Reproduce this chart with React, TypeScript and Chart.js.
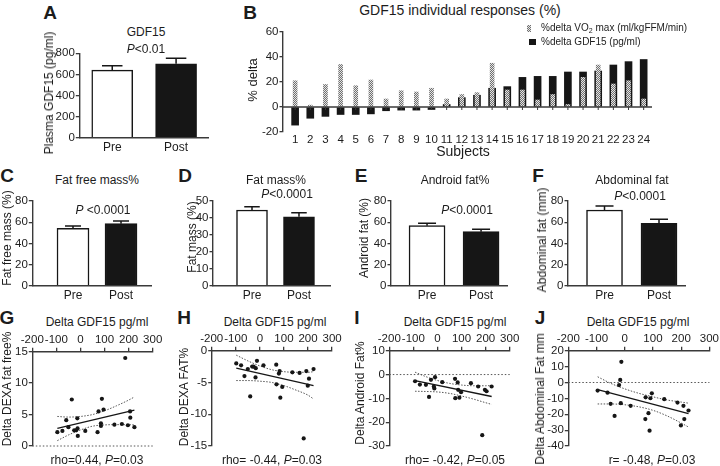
import React, { useEffect, useRef } from 'react';
import { Chart, registerables } from 'chart.js';

Chart.register(...registerables);

const FONT = "'Liberation Sans', Arial, Helvetica, sans-serif";
const INK = '#1c1c1c';
const AXIS = '#3a3a3a';
const BAR = '#161616';
const TICK_SIZE = 11.5;

// ---------- A, C, D, E, F : Pre / Post means (+SEM) ----------
const groupLabels = ['Pre', 'Post'];
const groupX = [1, 2];

const gdf15Mean = [640, 700];
const gdf15Sem = [42, 52];
const gdf15TicksY = [0, 200, 400, 600, 800];

const ffmMean = [54.2, 58.6];
const ffmSem = [2.2, 2.4];
const ffmTicksY = [0, 20, 40, 60, 80];

const fatMean = [44.7, 40.7];
const fatSem = [1.9, 2.4];
const fatTicksY = [0, 10, 20, 30, 40, 50];

const androidMean = [56.7, 51.0];
const androidSem = [2.3, 2.3];
const androidTicksY = [0, 20, 40, 60, 80];

const abdMean = [71.5, 59.0];
const abdSem = [3.8, 3.7];
const abdTicksY = [0, 20, 40, 60, 80];

// ---------- B : individual responses ----------
const subjectLabels = ['1', '2', '3', '4', '5', '6', '7', '8', '9', '10', '11', '12', '13', '14', '15', '16', '17', '18', '19', '20', '21', '22', '23', '24'];
const subjectX = [1, 2, 3, 4, 5, 6, 7, 8, 9, 10, 11, 12, 13, 14, 15, 16, 17, 18, 19, 20, 21, 22, 23, 24];
const vo2Delta = [21, 1.5, 18, 34, 17, 21.6, 6.4, 13, 12, 15, 6.4, 10, 11.5, 35, 13.6, 13.6, 5.6, 10, 2, 23.7, 33.6, 18.4, 21, 6.4];
const gdfDelta = [-14.5, -9, -7.5, -6, -6, -5.5, -3, -2.5, -2.5, -2, 2, 7.5, 9.4, 15, 16.3, 23.7, 24.5, 24.5, 28, 28, 28.8, 33.6, 36.3, 38];
const deltaTicksY = [-20, 0, 20, 40, 60];

// ---------- G - J : correlations with delta GDF15 ----------
const gdfTicksX = [-200, -100, 0, 100, 200, 300];

const gX = [-96, -75, -59, -50, -36, -26, -18, -13, -12, -11, 20, 71, 75, 85, 85, 89, 96, 141, 172, 186, 197, 206, 207, 224];
const gY = [2.2, 2.4, 4.1, 3.0, 7.4, 2.5, 2.5, 4.4, 2.8, 1.6, 2.4, 2.2, 5.5, 3.2, 3.6, 7.5, 5.8, 3.4, 3.5, 14.0, 3.3, 5.5, 4.5, 3.0];
const gFitX = [-96, 224];
const gFitY = [2.8, 5.7];
const gBandX = [-96, -50, 0, 50, 100, 150, 200, 224];
const gBandUp = [4.7, 4.6, 4.7, 5.0, 5.6, 6.4, 7.3, 7.8];
const gBandLo = [0.85, 1.75, 2.55, 3.15, 3.35, 3.4, 3.4, 3.35];
const gTicksY = [0, 5, 10, 15];

const hX = [-98, -78, -64, -50, -40, -32, -26, -18, -17, -12, 15, 68, 69, 79, 82, 85, 93, 135, 165, 182, 193, 199, 204, 223];
const hY = [-2.0, -2.3, -4.0, -2.9, -7.2, -2.5, -2.5, -4.2, -2.75, -1.6, -2.3, -2.2, -5.3, -3.6, -3.2, -7.4, -5.7, -3.4, -3.5, -13.8, -3.2, -5.5, -4.4, -2.9];
const hFitX = [-98, 223];
const hFitY = [-2.75, -5.5];
const hBandX = [-98, -50, 0, 50, 100, 150, 200, 223];
const hBandUp = [-0.7, -1.6, -2.4, -3.0, -3.3, -3.4, -3.4, -3.3];
const hBandLo = [-4.7, -4.7, -4.8, -5.0, -5.5, -6.2, -7.0, -7.6];
const hTicksY = [-15, -10, -5, 0];

const iX = [-93, -73, -48, -35, -27, -15, -13, -10, 20, 73, 74, 84, 86, 91, 98, 139, 169, 186, 197, 204, 225];
const iY = [-2.8, -4.2, -4.3, -9.4, -2.2, -5.0, -5.8, -1.1, -3.2, -1.8, -9.9, -3.3, -6.4, -9.7, -7.4, -3.6, -5.0, -25.4, -6.4, -7.0, -5.0];
const iFitX = [-93, 225];
const iFitY = [-2.5, -9.2];
const iBandX = [-93, -50, 0, 50, 100, 150, 200, 225];
const iBandUp = [1.0, -0.8, -2.5, -3.7, -4.4, -4.7, -4.7, -4.6];
const iBandLo = [-7.0, -7.1, -7.3, -7.9, -9.0, -10.3, -11.8, -12.5];
const iTicksY = [-30, -20, -10, 0, 10];

const jX = [-96, -61, -50, -36, -20, -16, -12, -14, 21, 74, 73, 84, 88, 91, 96, 140, 187, 199, 208, 211, 226];
const jY = [-5.1, -6.4, -13.4, -21, -1.6, 1.6, 13, -13, -14.7, -9.3, -23, -19.3, -30.3, -9.9, -6.8, -10.5, -12.6, -27, -14.7, -23, -17.6];
const jFitX = [-96, 226];
const jFitY = [-4.5, -19.5];
const jBandX = [-96, -50, 0, 50, 100, 150, 200, 226];
const jBandUp = [3.6, -0.5, -4.0, -6.8, -9.0, -11.0, -12.3, -13.0];
const jBandLo = [-13.5, -13.5, -14.0, -15.3, -17.5, -21.0, -25.5, -28.0];
const jTicksY = [-40, -30, -20, -10, 0, 10, 20];

// ---------- geometry ----------
type Box = { L: number; T: number; W: number; H: number; left: number; right: number; top: number; bottom: number };

const boxA: Box = { L: 40, T: 45, W: 180, H: 110, left: 79.3, right: 208, top: 53.3, bottom: 137.7 };
const boxB: Box = { L: 245, T: 24, W: 415, H: 122, left: 283, right: 652, top: 32, bottom: 132 };
const boxC: Box = { L: 12, T: 193, W: 150, H: 110, left: 32.3, right: 151.5, top: 201, bottom: 285.7 };
const boxD: Box = { L: 190, T: 193, W: 150, H: 110, left: 213, right: 330, top: 201, bottom: 285.7 };
const boxE: Box = { L: 367, T: 193, W: 150, H: 110, left: 391, right: 507, top: 201, bottom: 285.7 };
const boxF: Box = { L: 545, T: 193, W: 150, H: 110, left: 568, right: 685, top: 201, bottom: 285.7 };
const boxG: Box = { L: 10, T: 332, W: 155, H: 122, left: 32.3, right: 152.7, top: 351.7, bottom: 446 };
const boxH: Box = { L: 188, T: 331, W: 156, H: 123, left: 211.7, right: 332.1, top: 350.7, bottom: 446 };
const boxI: Box = { L: 365, T: 331, W: 157, H: 123, left: 389.3, right: 509.7, top: 350.7, bottom: 446.7 };
const boxJ: Box = { L: 543, T: 331, W: 177, H: 123, left: 568.3, right: 710.3, top: 350.7, bottom: 446.7 };

const fixedTicks = (vals: number[]) => (s: any) => {
  s.ticks = vals.map((v) => ({ value: v }));
};

const tickFont = { family: FONT, size: TICK_SIZE };

function yAxis(b: Box, ticks: number[]): any {
  return {
    type: 'linear',
    min: ticks[0],
    max: ticks[ticks.length - 1],
    afterBuildTicks: fixedTicks(ticks),
    afterFit: (s: any) => {
      s.width = b.left - b.L;
    },
    grid: { drawOnChartArea: false, drawTicks: true, tickLength: 3.5, color: AXIS, lineWidth: 1.3 },
    border: { display: true, color: AXIS, width: 1.4 },
    ticks: { font: tickFont, color: INK, padding: 1, autoSkip: false },
  };
}

function errorBars(sems: number[], cap: number) {
  return {
    id: 'errorBars',
    afterDatasetsDraw(chart: any) {
      const meta = chart.getDatasetMeta(0);
      const ys = chart.scales.y;
      const data = chart.data.datasets[0].data;
      const ctx = chart.ctx;
      ctx.save();
      ctx.strokeStyle = BAR;
      ctx.lineWidth = 1.5;
      meta.data.forEach((el: any, i: number) => {
        const top = ys.getPixelForValue(data[i].y + sems[i]);
        ctx.beginPath();
        ctx.moveTo(el.x, el.y);
        ctx.lineTo(el.x, top);
        ctx.moveTo(el.x - cap / 2, top);
        ctx.lineTo(el.x + cap / 2, top);
        ctx.stroke();
      });
      ctx.restore();
    },
  };
}

function zeroLine(dash: number[], color: string, width: number, tickXs?: number[]) {
  return {
    id: 'zeroLine',
    afterDatasetsDraw(chart: any) {
      const ys = chart.scales.y;
      const y = ys.getPixelForValue(0);
      const { left, right } = chart.chartArea;
      const ctx = chart.ctx;
      ctx.save();
      ctx.strokeStyle = color;
      ctx.lineWidth = width;
      ctx.setLineDash(dash);
      ctx.beginPath();
      ctx.moveTo(left, y);
      ctx.lineTo(right, y);
      ctx.stroke();
      if (tickXs) {
        ctx.setLineDash([]);
        ctx.lineWidth = 1;
        tickXs.forEach((v) => {
          const x = chart.scales.x.getPixelForValue(v);
          ctx.beginPath();
          ctx.moveTo(x, y);
          ctx.lineTo(x, y + 3);
          ctx.stroke();
        });
      }
      ctx.restore();
    },
  };
}

const baseOptions = {
  animation: false,
  responsive: false,
  maintainAspectRatio: false,
  devicePixelRatio: 1,
  events: [],
  plugins: { legend: { display: false }, tooltip: { enabled: false }, title: { display: false } },
};

function barConfig(b: Box, xr: [number, number], yTicks: number[], means: number[], sems: number[], thick: number): any {
  const xh = b.T + b.H - b.bottom;
  return {
    type: 'bar',
    data: {
      datasets: [
        {
          data: groupX.map((x, i) => ({ x, y: means[i] })),
          backgroundColor: ['#ffffff', BAR],
          borderColor: BAR,
          borderWidth: 1.5,
          barThickness: thick,
        },
      ],
    },
    options: {
      ...baseOptions,
      layout: { padding: { left: 0, right: b.L + b.W - b.right, top: b.top - b.T, bottom: 0 } },
      scales: {
        x: {
          type: 'linear',
          offset: false,
          min: xr[0],
          max: xr[1],
          afterBuildTicks: fixedTicks(groupX),
          afterFit: (s: any) => {
            s.height = xh;
          },
          grid: { display: false, drawTicks: false, offset: false },
          border: { display: true, color: AXIS, width: 1.4 },
          ticks: {
            font: { family: FONT, size: 12 },
            color: INK,
            padding: 3,
            autoSkip: false,
            maxRotation: 0,
            callback: (v: any) => {
              const k = groupX.indexOf(Number(v));
              return k >= 0 ? groupLabels[k] : '';
            },
          },
        },
        y: yAxis(b, yTicks),
      },
    },
    plugins: [errorBars(sems, thick * 0.5)],
  };
}

function scatterConfig(
  b: Box,
  xs: number[],
  ys: number[],
  fitX: number[],
  fitY: number[],
  bandX: number[],
  bandUp: number[],
  bandLo: number[],
  yTicks: number[],
  dottedZero: boolean
): any {
  const xh = b.top - b.T;
  return {
    type: 'scatter',
    data: {
      datasets: [
        {
          type: 'scatter',
          data: xs.map((x, i) => ({ x, y: ys[i] })),
          pointRadius: 2.1,
          pointBackgroundColor: BAR,
          pointBorderWidth: 0,
          order: 1,
        },
        {
          type: 'line',
          data: fitX.map((x, i) => ({ x, y: fitY[i] })),
          borderColor: BAR,
          borderWidth: 1.3,
          pointRadius: 0,
          fill: false,
          order: 2,
        },
        {
          type: 'line',
          data: bandX.map((x, i) => ({ x, y: bandUp[i] })),
          borderColor: '#555',
          borderWidth: 1,
          borderDash: [1.5, 1.5],
          pointRadius: 0,
          fill: false,
          cubicInterpolationMode: 'monotone',
          order: 3,
        },
        {
          type: 'line',
          data: bandX.map((x, i) => ({ x, y: bandLo[i] })),
          borderColor: '#555',
          borderWidth: 1,
          borderDash: [1.5, 1.5],
          pointRadius: 0,
          fill: false,
          cubicInterpolationMode: 'monotone',
          order: 4,
        },
      ],
    },
    options: {
      ...baseOptions,
      layout: { padding: { left: 0, right: b.L + b.W - b.right, top: 0, bottom: b.T + b.H - b.bottom } },
      scales: {
        x: {
          type: 'linear',
          position: 'top',
          min: gdfTicksX[0],
          max: gdfTicksX[gdfTicksX.length - 1],
          afterBuildTicks: fixedTicks(gdfTicksX),
          afterFit: (s: any) => {
            s.height = xh;
          },
          grid: { drawOnChartArea: false, drawTicks: true, tickLength: 4, color: AXIS, lineWidth: 1.3 },
          border: { display: true, color: AXIS, width: 1.4 },
          ticks: { font: tickFont, color: INK, padding: 1, autoSkip: false, maxRotation: 0 },
        },
        y: yAxis(b, yTicks),
      },
    },
    plugins: dottedZero ? [zeroLine([1.5, 2], '#555', 1)] : [],
  };
}

function hatch(canvas: HTMLCanvasElement): any {
  const pc = document.createElement('canvas');
  pc.width = 2;
  pc.height = 2;
  const p = pc.getContext('2d')!;
  p.fillStyle = '#e4e4e4';
  p.fillRect(0, 0, 2, 2);
  p.fillStyle = '#707070';
  p.fillRect(0, 0, 1, 1);
  p.fillRect(1, 1, 1, 1);
  return canvas.getContext('2d')!.createPattern(pc, 'repeat');
}

function configB(canvas: HTMLCanvasElement): any {
  const b = boxB;
  const xh = b.T + b.H - b.bottom;
  return {
    type: 'bar',
    data: {
      datasets: [
        {
          label: '%delta VO₂ max (ml/kgFFM/min)',
          data: subjectX.map((x, i) => ({ x, y: vo2Delta[i] })),
          backgroundColor: hatch(canvas),
          borderWidth: 0,
          barThickness: 4,
          grouped: false,
          order: 1,
        },
        {
          label: '%delta GDF15 (pg/ml)',
          data: subjectX.map((x, i) => ({ x, y: gdfDelta[i] })),
          backgroundColor: BAR,
          borderWidth: 0,
          barThickness: 7,
          grouped: false,
          order: 2,
        },
      ],
    },
    options: {
      ...baseOptions,
      layout: { padding: { left: 0, right: b.L + b.W - b.right, top: b.top - b.T, bottom: 0 } },
      scales: {
        x: {
          type: 'linear',
          offset: false,
          min: 0.2,
          max: 24.55,
          afterBuildTicks: fixedTicks(subjectX),
          afterFit: (s: any) => {
            s.height = xh;
          },
          grid: { display: false, drawTicks: false, offset: false },
          border: { display: false },
          ticks: {
            font: tickFont,
            color: INK,
            padding: 1,
            autoSkip: false,
            maxRotation: 0,
            callback: (v: any) => subjectLabels[subjectX.indexOf(Number(v))] ?? '',
          },
        },
        y: yAxis(b, deltaTicksY),
      },
    },
    plugins: [zeroLine([], AXIS, 1.4, subjectX)],
  };
}

type Panel = { box: Box; make: (c: HTMLCanvasElement) => any };

const panels: Panel[] = [
  { box: boxA, make: () => barConfig(boxA, [0.484, 2.5], gdf15TicksY, gdf15Mean, gdf15Sem, 41) },
  { box: boxB, make: (c) => configB(c) },
  { box: boxC, make: () => barConfig(boxC, [0.152, 2.635], ffmTicksY, ffmMean, ffmSem, 32) },
  { box: boxD, make: () => barConfig(boxD, [0.17, 2.66], fatTicksY, fatMean, fatSem, 31) },
  { box: boxE, make: () => barConfig(boxE, [0.333, 2.48], androidTicksY, androidMean, androidSem, 36) },
  { box: boxF, make: () => barConfig(boxF, [0.33, 2.477], abdTicksY, abdMean, abdSem, 36) },
  { box: boxG, make: () => scatterConfig(boxG, gX, gY, gFitX, gFitY, gBandX, gBandUp, gBandLo, gTicksY, true) },
  { box: boxH, make: () => scatterConfig(boxH, hX, hY, hFitX, hFitY, hBandX, hBandUp, hBandLo, hTicksY, false) },
  { box: boxI, make: () => scatterConfig(boxI, iX, iY, iFitX, iFitY, iBandX, iBandUp, iBandLo, iTicksY, true) },
  { box: boxJ, make: () => scatterConfig(boxJ, jX, jY, jFitX, jFitY, jBandX, jBandUp, jBandLo, jTicksY, true) },
];

function Txt(props: { x: number; y: number; size?: number; bold?: boolean; rot?: boolean; children: React.ReactNode }) {
  const { x, y, size = 12, bold = false, rot = false, children } = props;
  return (
    <div
      style={{
        position: 'absolute',
        left: x,
        top: y,
        transform: `translate(-50%, -50%)${rot ? ' rotate(-90deg)' : ''}`,
        fontFamily: FONT,
        fontSize: size,
        fontWeight: bold ? 700 : 400,
        color: INK,
        whiteSpace: 'nowrap',
        lineHeight: 1,
      }}
    >
      {children}
    </div>
  );
}

const P = () => <span style={{ fontStyle: 'italic' }}>P</span>;

export default function App() {
  const refs = useRef<(HTMLCanvasElement | null)[]>([]);

  useEffect(() => {
    document.body.style.margin = '0';
    const charts: Chart[] = [];
    panels.forEach((p, i) => {
      const c = refs.current[i];
      if (!c) return;
      charts.push(new Chart(c, p.make(c)));
    });
    return () => {
      charts.forEach((ch) => ch.destroy());
    };
  }, []);

  const letter = 19;

  return (
    <div style={{ position: 'fixed', left: 0, top: 0, width: 720, height: 466, background: '#ffffff', overflow: 'hidden' }}>
      {panels.map((p, i) => (
        <canvas
          key={i}
          ref={(el) => {
            refs.current[i] = el;
          }}
          width={p.box.W}
          height={p.box.H}
          style={{ position: 'absolute', left: p.box.L, top: p.box.T, width: p.box.W, height: p.box.H }}
        />
      ))}

      {/* panel letters */}
      <Txt x={50} y={12} size={letter} bold>A</Txt>
      <Txt x={250} y={12} size={letter} bold>B</Txt>
      <Txt x={7} y={175} size={letter} bold>C</Txt>
      <Txt x={185} y={175} size={letter} bold>D</Txt>
      <Txt x={361} y={175} size={letter} bold>E</Txt>
      <Txt x={538} y={175} size={letter} bold>F</Txt>
      <Txt x={7} y={317} size={letter} bold>G</Txt>
      <Txt x={184} y={317} size={letter} bold>H</Txt>
      <Txt x={357} y={317} size={letter} bold>I</Txt>
      <Txt x={540} y={317} size={letter} bold>J</Txt>

      {/* A */}
      <Txt x={146} y={32}>GDF15</Txt>
      <Txt x={146} y={49}><P />&lt;0.01</Txt>
      <Txt x={49} y={93} rot>Plasma GDF15 (pg/ml)</Txt>

      {/* B */}
      <Txt x={460} y={10} size={14}>GDF15 individual responses (%)</Txt>
      <Txt x={252} y={80} rot size={13}>% delta</Txt>
      <Txt x={463} y={151} size={14}>Subjects</Txt>
      <div
        style={{
          position: 'absolute',
          left: 527,
          top: 25,
          width: 4,
          height: 7,
          background: 'repeating-conic-gradient(#707070 0 25%, #e4e4e4 0 50%) 0 0 / 2px 2px',
        }}
      />
      <div style={{ position: 'absolute', left: 541, top: 23, fontFamily: FONT, fontSize: 10, color: INK, whiteSpace: 'nowrap', lineHeight: '10px' }}>
        %delta VO<sub style={{ fontSize: 7, verticalAlign: 'baseline', position: 'relative', top: 2 }}>2</sub> max (ml/kgFFM/min)
      </div>
      <div style={{ position: 'absolute', left: 529, top: 39, width: 7, height: 6, background: BAR }} />
      <div style={{ position: 'absolute', left: 541, top: 37, fontFamily: FONT, fontSize: 10, color: INK, whiteSpace: 'nowrap', lineHeight: '10px' }}>
        %delta GDF15 (pg/ml)
      </div>

      {/* C */}
      <Txt x={97} y={180}>Fat free mass%</Txt>
      <Txt x={103} y={210}><P /> &lt;0.0001</Txt>
      <Txt x={7} y={238} rot>Fat free mass (%)</Txt>

      {/* D */}
      <Txt x={276} y={180}>Fat mass%</Txt>
      <Txt x={287} y={194}><P />&lt;0.0001</Txt>
      <Txt x={191.5} y={237} rot>Fat mass (%)</Txt>

      {/* E */}
      <Txt x={455} y={180}>Android fat%</Txt>
      <Txt x={467} y={210}><P />&lt;0.0001</Txt>
      <Txt x={364} y={238} rot>Android fat (%)</Txt>

      {/* F */}
      <Txt x={632} y={180}>Abdominal fat</Txt>
      <Txt x={640} y={196}><P />&lt;0.0001</Txt>
      <Txt x={542} y={240} rot>Abdominal fat (mm)</Txt>

      {/* G */}
      <Txt x={97} y={322}>Delta GDF15 pg/ml</Txt>
      <Txt x={97} y={460}>rho=0.44, <P />=0.03</Txt>
      <Txt x={7} y={389} rot>Delta DEXA fat free%</Txt>

      {/* H */}
      <Txt x={275} y={322}>Delta GDF15 pg/ml</Txt>
      <Txt x={272} y={460}>rho= -0.44, <P />=0.03</Txt>
      <Txt x={183.5} y={397} rot>Delta DEXA FAT%</Txt>

      {/* I */}
      <Txt x={455} y={322}>Delta GDF15 pg/ml</Txt>
      <Txt x={455} y={460}>rho= -0.42, <P />=0.05</Txt>
      <Txt x={360} y={393} rot>Delta Android Fat%</Txt>

      {/* J */}
      <Txt x={638} y={322}>Delta GDF15 pg/ml</Txt>
      <Txt x={652} y={460}>r= -0.48, <P />=0.03</Txt>
      <Txt x={540} y={399} rot>Delta Abdominal Fat mm</Txt>
    </div>
  );
}
